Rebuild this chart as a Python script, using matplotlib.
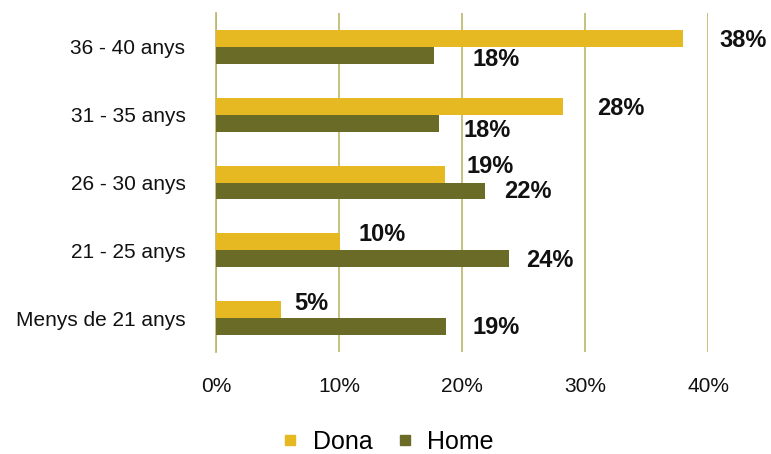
import matplotlib.pyplot as plt
import numpy as np
from matplotlib.lines import Line2D

plt.rcParams['font.family'] = ['Liberation Sans', 'DejaVu Sans']

categories = ["Menys de 21 anys", "21 - 25 anys", "26 - 30 anys", "31 - 35 anys", "36 - 40 anys"]
dona = [5.3, 10.1, 18.6, 28.2, 38.0]
home = [18.7, 23.8, 21.9, 18.1, 17.7]
dona_labels = ["5%", "10%", "19%", "28%", "38%"]
home_labels = ["19%", "24%", "22%", "18%", "18%"]

DONA_COLOR = "#E6B822"
HOME_COLOR = "#6B6B28"
GRID_COLOR = "#BDB66A"

# label offsets in pixels (dx from bar end, dy from bar centre), as in the original
dona_offsets = [(13, 6), (18, 7.5), (22, 7.5), (34, -2), (36, -2)]
home_offsets = [(26, -1), (17, -1.5), (19, -1), (25, -7), (39, -4.5)]

fig = plt.figure(figsize=(7.71, 4.54), dpi=100)
ax = fig.add_axes([216 / 771, 1 - 352 / 454, (708 - 216) / 771, (352 - 13) / 454])

y = np.arange(len(categories))
h = 0.25
ax.barh(y + h / 2, dona, height=h, color=DONA_COLOR, zorder=3)
ax.barh(y - h / 2, home, height=h, color=HOME_COLOR, zorder=3)

for i in range(len(categories)):
    dx, dy = dona_offsets[i]
    ax.annotate(dona_labels[i], (dona[i], y[i] + h / 2), xytext=(dx, dy),
                textcoords='offset pixels', ha='left', va='center',
                fontsize=17, fontweight='bold', color='#111111')
    dx, dy = home_offsets[i]
    ax.annotate(home_labels[i], (home[i], y[i] - h / 2), xytext=(dx, dy),
                textcoords='offset pixels', ha='left', va='center',
                fontsize=17, fontweight='bold', color='#111111')

ax.set_xlim(0, 40)
ax.set_ylim(-0.5, len(categories) - 0.5)
ax.set_xticks([0, 10, 20, 30, 40])
ax.set_xticklabels([f"{v}%" for v in [0, 10, 20, 30, 40]])
ax.set_yticks(y)
ax.set_yticklabels(categories)
ax.xaxis.grid(True, color=GRID_COLOR, linewidth=1.2, zorder=0)
ax.tick_params(axis='both', length=0, labelsize=15, colors='#111111')
ax.tick_params(axis='x', pad=18)
ax.tick_params(axis='y', pad=22)
for s in ['top', 'right', 'bottom']:
    ax.spines[s].set_visible(False)
ax.spines['left'].set_color(GRID_COLOR)
ax.spines['left'].set_linewidth(1.2)

handles = [Line2D([], [], marker='s', linestyle='none', markersize=7, color=DONA_COLOR),
           Line2D([], [], marker='s', linestyle='none', markersize=7, color=HOME_COLOR)]
fig.legend(handles, ["Dona", "Home"], loc='center', bbox_to_anchor=(387 / 771, 1 - 442 / 454),
           ncol=2, frameon=False, fontsize=18, handlelength=0.8, handletextpad=0.5,
           columnspacing=0.9)

fig.savefig("out.png", dpi=100)
